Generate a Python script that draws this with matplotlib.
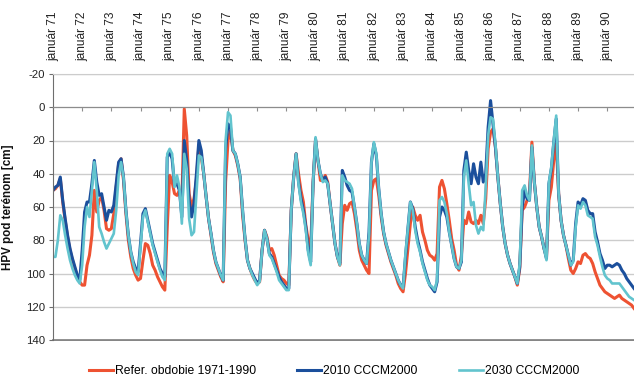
import matplotlib
matplotlib.use('Agg')
import matplotlib.pyplot as plt
import numpy as np

plt.rcParams['font.family'] = ['Liberation Sans', 'DejaVu Sans']
plt.rcParams['axes.unicode_minus'] = False

# monthly groundwater level below terrain [cm], Jan 1971 - Dec 1990 (one row per year)
ref_1971_1990 = [
	50, 49, 47, 43, 57, 68, 78, 86, 92, 97, 102, 105,
	107, 107, 95, 89, 77, 50, 63, 56, 54, 62, 73, 74,
	73, 64, 48, 34, 31, 44, 64, 80, 90, 97, 101, 104,
	103, 92, 82, 83, 88, 95, 98, 102, 105, 108, 110, 72,
	41, 45, 52, 53, 50, 57, 1, 17, 52, 60, 55, 44,
	23, 30, 40, 54, 67, 77, 87, 94, 98, 102, 105, 45,
	20, 14, 26, 29, 35, 43, 65, 80, 92, 97, 101, 104,
	106, 105, 86, 74, 78, 86, 85, 89, 95, 101, 103, 104,
	106, 107, 62, 42, 28, 40, 50, 57, 71, 80, 84, 45,
	20, 32, 44, 44, 41, 45, 58, 70, 82, 90, 95, 70,
	59, 62, 58, 57, 64, 74, 86, 92, 95, 98, 100, 50,
	44, 43, 53, 66, 76, 83, 88, 93, 97, 101, 106, 109,
	111, 100, 85, 70, 60, 65, 68, 65, 75, 80, 86, 89,
	90, 92, 88, 48, 44, 49, 58, 68, 79, 86, 95, 98,
	89, 68, 70, 63, 69, 70, 68, 70, 65, 70, 55, 25,
	15, 13, 24, 42, 58, 72, 82, 89, 94, 98, 102, 107,
	97, 62, 60, 56, 52, 21, 45, 60, 72, 78, 85, 90,
	56, 48, 32, 22, 52, 68, 77, 83, 91, 98, 100, 97,
	93, 94, 89, 88, 90, 91, 94, 99, 103, 107, 109, 111,
	112, 113, 114, 115, 114, 113, 115, 116, 117, 118, 119, 121,
]

cccm_2010 = [
	50, 48, 47, 42, 56, 67, 77, 85, 91, 96, 101, 104,
	86, 63, 57, 57, 46, 32, 45, 53, 52, 60, 68, 62,
	63, 59, 46, 33, 31, 42, 62, 77, 87, 93, 97, 99,
	82, 64, 61, 68, 75, 82, 87, 92, 97, 100, 102, 30,
	27, 31, 47, 46, 50, 66, 20, 32, 56, 66, 58, 40,
	20, 26, 40, 54, 67, 76, 86, 93, 97, 101, 104, 25,
	10, 12, 26, 28, 34, 42, 62, 79, 92, 97, 100, 103,
	106, 104, 86, 74, 79, 88, 90, 94, 98, 102, 105, 107,
	109, 109, 62, 42, 28, 45, 55, 62, 72, 86, 93, 45,
	19, 32, 40, 44, 42, 46, 58, 70, 82, 90, 94, 38,
	42, 47, 50, 51, 60, 70, 82, 89, 92, 94, 75, 33,
	22, 29, 49, 64, 75, 82, 87, 92, 96, 100, 104, 107,
	108, 90, 73, 57, 61, 72, 80, 86, 93, 98, 103, 107,
	109, 111, 105, 66, 60, 62, 66, 75, 83, 91, 96, 97,
	93, 38, 27, 38, 46, 34, 42, 46, 33, 45, 40, 12,
	-4, 10, 24, 42, 58, 72, 82, 89, 94, 98, 102, 106,
	96, 60, 50, 55, 56, 24, 45, 60, 72, 78, 85, 91,
	46, 37, 21, 7, 52, 68, 77, 83, 89, 95, 92, 70,
	57, 59, 55, 56, 62, 64, 64, 75, 81, 88, 92, 97,
	95, 95, 96, 95, 94, 95, 98, 100, 103, 105, 107, 109,
]

cccm_2030 = [
	90, 90, 80, 65, 68, 77, 85, 92, 97, 101, 104, 106,
	95, 72, 60, 66, 50, 33, 50, 72, 76, 81, 85, 82,
	79, 76, 62, 41, 33, 42, 62, 77, 87, 94, 99, 101,
	84, 66, 62, 69, 76, 83, 88, 93, 98, 102, 104, 28,
	25, 28, 48, 41, 48, 70, 28, 37, 67, 77, 75, 52,
	29, 30, 40, 54, 67, 76, 86, 93, 97, 101, 104, 20,
	3, 5, 26, 28, 34, 42, 62, 79, 92, 97, 101, 104,
	107, 105, 86, 74, 79, 89, 91, 95, 99, 104, 106, 108,
	110, 110, 62, 42, 28, 46, 57, 64, 74, 88, 95, 45,
	18, 32, 40, 45, 44, 46, 58, 70, 82, 90, 95, 41,
	44, 45, 46, 49, 60, 70, 82, 89, 92, 94, 77, 33,
	21, 28, 49, 64, 75, 82, 87, 92, 96, 100, 104, 107,
	109, 88, 73, 57, 62, 74, 82, 87, 94, 99, 104, 107,
	108, 110, 104, 56, 54, 57, 64, 75, 83, 91, 96, 97,
	92, 42, 32, 46, 59, 57, 71, 76, 72, 74, 48, 17,
	6, 7, 22, 42, 58, 72, 82, 89, 94, 98, 102, 106,
	94, 50, 47, 53, 56, 23, 45, 60, 72, 78, 85, 92,
	45, 36, 20, 5, 52, 68, 77, 83, 89, 95, 93, 72,
	59, 61, 57, 59, 65, 66, 67, 78, 83, 90, 96, 101,
	103, 104, 106, 106, 106, 106, 108, 110, 112, 114, 115, 116,
]

years = list(range(71, 91))
tick_labels = [f'január {y}' for y in years]
series_names = ['Refer. obdobie 1971-1990', '2010 CCCM2000', '2030 CCCM2000']

months = np.arange(len(ref_1971_1990))

fig = plt.figure(figsize=(6.34, 3.77), dpi=100)
ax = fig.add_axes([53 / 634, 1 - 340 / 377, 581 / 634, 266 / 377])

ax.plot(months, ref_1971_1990, color='#ee5232', lw=2.2, label=series_names[0], solid_joinstyle='round')
ax.plot(months, cccm_2010, color='#1b4f9c', lw=2.2, label=series_names[1], solid_joinstyle='round')
ax.plot(months, cccm_2030, color='#62c4ce', lw=1.9, label=series_names[2], solid_joinstyle='round')

ax.set_xlim(0, len(months) - 1)
ax.set_ylim(140, -20)
ax.set_yticks(np.arange(-20, 141, 20))
ax.yaxis.grid(True, color='#cccccc', lw=1)
ax.set_axisbelow(True)

# x axis crosses at 0, labels on top
ax.spines['bottom'].set_position(('data', 0))
ax.spines['bottom'].set_color('#8c8c8c')
ax.spines['top'].set_color('#cccccc')
ax.spines['right'].set_visible(False)
ax.spines['left'].set_color('#6e6e6e')
ax.axhline(140, color='#6e6e6e', lw=1.2, clip_on=False, zorder=0)

ax.set_xticks(months[::12])
ax.set_xticklabels(tick_labels, rotation=90, fontsize=8.6, color='#222222')
ax.tick_params(axis='x', bottom=True, top=False, labelbottom=False, labeltop=True,
	direction='out', length=3, color='#8c8c8c', pad=6.5)
ax.tick_params(axis='y', direction='out', length=3, color='#6e6e6e', labelsize=8.2,
	labelcolor='#222222', pad=2.5)

ax.set_ylabel('HPV pod terénom [cm]', fontsize=8.4, fontweight='bold', color='#111111')
ax.yaxis.set_label_coords(-0.067, 0.5)

fig.legend(loc='center', bbox_to_anchor=(334 / 634, 1 - 371 / 377), ncol=3, frameon=False,
	fontsize=8.7, handlelength=2.0, handletextpad=0.15, columnspacing=3.4)

fig.savefig('out.png', dpi=100)
